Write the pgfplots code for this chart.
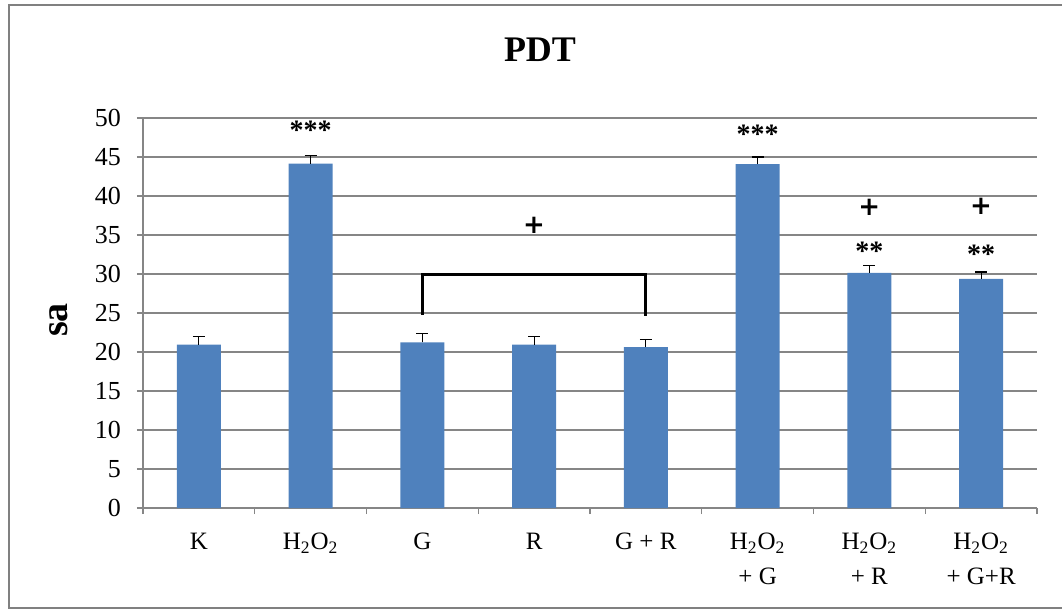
\documentclass[border=0pt]{standalone}
\usepackage{pgfplots}
\pgfplotsset{compat=1.18}
\usepackage{pgfplotstable}
\usepackage{fontspec}
\setmainfont{Liberation Serif}
\newfontfamily\plusfont{DejaVu Sans}
\definecolor{barblue}{RGB}{79,129,189}
\definecolor{gridgray}{RGB}{134,134,134}
\definecolor{framegray}{RGB}{128,128,128}

\pgfplotstableread{
x y err
0 20.94 1.07
1 44.14 1.06
2 21.24 1.10
3 20.94 1.06
4 20.64 0.96
5 44.10 0.90
6 30.13 0.98
7 29.36 0.90
}\pdtdata

\begin{document}
\begin{tikzpicture}
\useasboundingbox (0pt,0pt) rectangle (531pt,306pt);
% outer frame
\draw[framegray, line width=1.2pt] (531pt,303.5pt) -- (4.5pt,303.5pt) -- (4.5pt,2pt) -- (531pt,2pt);
\begin{axis}[
  at={(71.5pt,52pt)}, anchor=south west,
  scale only axis,
  width=447pt, height=195pt,
  xmin=-0.5, xmax=7.5,
  ymin=0, ymax=50,
  ytick={0,5,...,50},
  xtick={0,...,7},
  xticklabels={K, {H\textsubscript{2}O\textsubscript{2}}, G, R, G + R, {H\textsubscript{2}O\textsubscript{2}\\+ G}, {H\textsubscript{2}O\textsubscript{2}\\+ R}, {H\textsubscript{2}O\textsubscript{2}\\+ G+R}},
  minor xtick={-0.5,0.5,...,7.5},
  axis x line*=bottom, axis y line*=left,
  axis line style={gridgray, line width=0.6pt, -},
  tick align=outside,
  major tick length=3pt, minor tick length=3pt,
  major x tick style={draw=none},
  minor x tick style={gridgray, line width=0.6pt},
  ytick style={gridgray, line width=0.6pt},
  ymajorgrids=true,
  major grid style={gridgray, line width=0.6pt},
  /pgf/number format/assume math mode=true,
  yticklabel style={font=\fontsize{13}{13}\selectfont, black, xshift=-4.5pt},
  xticklabel style={font=\fontsize{12.5}{17.5}\selectfont, align=center, black, anchor=north, yshift=-6pt},
  ybar, bar width=0.394,
  clip=false,
]
\addplot[fill=barblue, draw=none,
  error bars/.cd, y dir=plus, y explicit,
  error bar style={black, line width=0.6pt},
  error mark options={black, mark size=3pt, line width=0.6pt, rotate=90}]
  table[x=x, y=y, y error=err] {\pdtdata};
% bracket
\draw[black, line width=1.5pt] (axis cs:2,24.75) -- (axis cs:2,30) -- (axis cs:4,30) -- (axis cs:4,24.6);
% significance marks
\node[anchor=base, font=\fontsize{14}{14}\selectfont\bfseries] at (axis cs:1,47.2) {***};
\node[anchor=base, font=\fontsize{14}{14}\selectfont\bfseries] at (axis cs:5,46.7) {***};
\node[anchor=base, font=\fontsize{14}{14}\selectfont\bfseries] at (axis cs:6,31.7) {**};
\node[anchor=base, font=\fontsize{14}{14}\selectfont\bfseries] at (axis cs:7,31.3) {**};
\node[anchor=base, font=\fontsize{13}{13}\selectfont\plusfont\bfseries] at (axis cs:3,35.2) {+};
\node[anchor=base, font=\fontsize{13}{13}\selectfont\plusfont\bfseries] at (axis cs:6,37.5) {+};
\node[anchor=base, font=\fontsize{13}{13}\selectfont\plusfont\bfseries] at (axis cs:7,37.6) {+};
\end{axis}
% title and y label
\node[font=\fontsize{18}{18}\selectfont\bfseries] at (270pt,281pt) {PDT};
\node[rotate=90, font=\fontsize{19}{19}\selectfont\bfseries] at (29.5pt,146pt) {sa};
\end{tikzpicture}
\end{document}
